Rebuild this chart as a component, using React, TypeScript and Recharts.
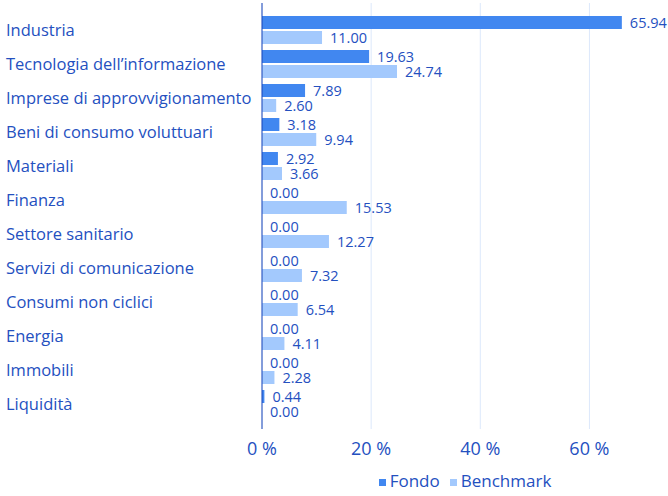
import React from 'react';
import { BarChart, Bar, XAxis, YAxis, CartesianGrid, Legend, LabelList } from 'recharts';

const categories = [
  'Industria',
  'Tecnologia dell\u2019informazione',
  'Imprese di approvvigionamento',
  'Beni di consumo voluttuari',
  'Materiali',
  'Finanza',
  'Settore sanitario',
  'Servizi di comunicazione',
  'Consumi non ciclici',
  'Energia',
  'Immobili',
  'Liquidità',
];
const fondo = [65.94, 19.63, 7.89, 3.18, 2.92, 0, 0, 0, 0, 0, 0, 0.44];
const benchmark = [11.0, 24.74, 2.6, 9.94, 3.66, 15.53, 12.27, 7.32, 6.54, 4.11, 2.28, 0.0];
const xTicks = [0, 20, 40, 60];
const xDomain = [0, 70];

const data = categories.map((c, i) => ({ name: c, Fondo: fondo[i], Benchmark: benchmark[i] }));

const FONT = '"Open Sans", "Noto Sans", sans-serif';
const TEXT = '#2450bf';

const LeftTick = (props: any) => {
  const { y, payload } = props;
  return (
    <text x={6} y={y} dy={6} textAnchor="start" fill={TEXT} fontSize={16.5} fontFamily={FONT}>
      {payload.value}
    </text>
  );
};

const tinyMin = (v: any) => (Number(v) === 0 ? 0.01 : 0);

export default function App() {
  return (
    <div style={{ position: 'absolute', left: 0, top: 0 }}>
      <BarChart
        width={668}
        height={496}
        data={data}
        layout="vertical"
        margin={{ top: 3, right: 24, bottom: 0, left: 0 }}
        barGap={2}
        barCategoryGap={3}
      >
        <CartesianGrid
          horizontal={false}
          stroke="#dce8fb"
          verticalCoordinatesGenerator={({ offset }: any) =>
            xTicks.map((t) => offset.left + (offset.width * (t - xDomain[0])) / (xDomain[1] - xDomain[0]))
          }
        />
        <XAxis
          type="number"
          domain={xDomain}
          ticks={xTicks}
          tickFormatter={(v: number) => `${v} %`}
          axisLine={false}
          tickLine={false}
          height={40}
          tick={{ fill: TEXT, fontSize: 18, fontFamily: FONT }}
          tickMargin={7}
        />
        <YAxis
          type="category"
          dataKey="name"
          width={262}
          tick={<LeftTick />}
          tickLine={false}
          axisLine={{ stroke: '#1a46b8' }}
          padding={{ top: 10, bottom: 8 }}
          interval={0}
        />
        <Legend
          verticalAlign="bottom"
          height={27}
          iconType="square"
          iconSize={7}
          itemSorter={(item: any) => (item.value === 'Fondo' ? 0 : 1)}
          wrapperStyle={{ fontFamily: FONT, fontSize: 17, left: 262, width: 416 }}
          formatter={(v: string) => <span style={{ color: TEXT }}>{v}</span>}
        />
        <Bar dataKey="Fondo" fill="#4187f0" barSize={13} minPointSize={tinyMin} isAnimationActive={false}>
          <LabelList
            dataKey="Fondo"
            position="right"
            offset={8}
            formatter={(v: number) => Number(v).toFixed(2)}
            style={{ fill: TEXT, fontSize: 14.5, fontFamily: FONT }}
          />
        </Bar>
        <Bar dataKey="Benchmark" fill="#a3c9fd" barSize={13} minPointSize={tinyMin} isAnimationActive={false}>
          <LabelList
            dataKey="Benchmark"
            position="right"
            offset={8}
            formatter={(v: number) => Number(v).toFixed(2)}
            style={{ fill: TEXT, fontSize: 14.5, fontFamily: FONT }}
          />
        </Bar>
      </BarChart>
    </div>
  );
}
